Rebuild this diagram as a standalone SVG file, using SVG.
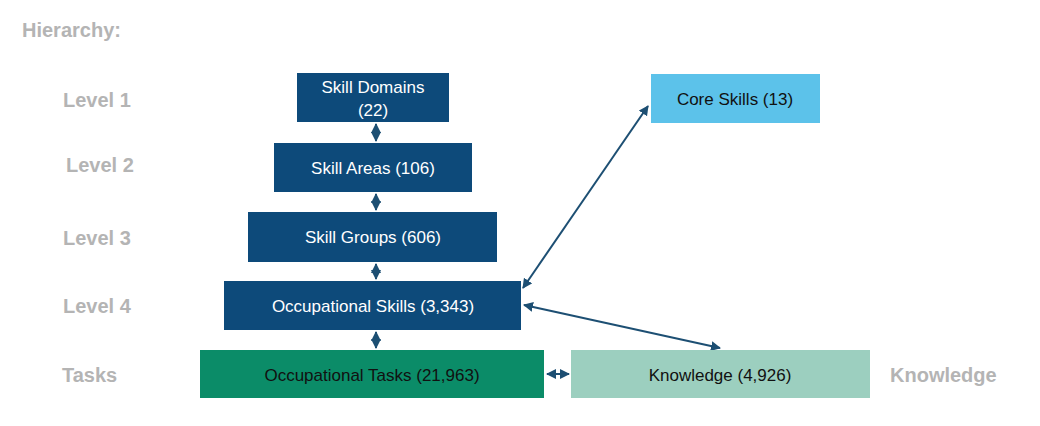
<svg xmlns="http://www.w3.org/2000/svg" width="1040" height="426" viewBox="0 0 1040 426">
<style>
.lbl{font-family:"Liberation Sans",Arial,sans-serif;font-weight:bold;font-size:20px;fill:#b4b4b4}
.bt{font-family:"Liberation Sans",Arial,sans-serif;font-size:17px;fill:#fff;text-anchor:middle}
.dk{fill:#0d4a7a}
.c{stroke:#1d4f73;stroke-width:2;fill:none;marker-start:url(#a);marker-end:url(#a)}
</style>
<defs><marker id="a" viewBox="0 0 10 10" refX="9" refY="5" markerWidth="5" markerHeight="5" orient="auto-start-reverse"><path d="M0,0L10,5L0,10z" fill="#1d4f73"/></marker></defs>
<rect width="1040" height="426" fill="#fff"/>
<text class="lbl" x="22" y="37">Hierarchy:</text>
<text class="lbl" x="63" y="107">Level 1</text>
<text class="lbl" x="66" y="172">Level 2</text>
<text class="lbl" x="63" y="245">Level 3</text>
<text class="lbl" x="63" y="313">Level 4</text>
<text class="lbl" x="62" y="382">Tasks</text>
<text class="lbl" x="890" y="382">Knowledge</text>
<g id="connectors">
<line class="c" x1="376" y1="124" x2="376" y2="141"/>
<line class="c" x1="376" y1="194" x2="376" y2="210"/>
<line class="c" x1="376" y1="264" x2="376" y2="279"/>
<line class="c" x1="376" y1="332" x2="376" y2="348"/>
<line class="c" x1="547" y1="374" x2="569" y2="374"/>
<line class="c" x1="523" y1="288" x2="648" y2="106"/>
<line class="c" x1="524" y1="305" x2="720" y2="348"/>
</g>
<g id="n1"><rect class="dk" x="297" y="73" width="152" height="49"/><text class="bt" x="373" y="93">Skill Domains</text><text class="bt" x="373" y="116">(22)</text></g>
<g id="n2"><rect class="dk" x="274" y="143" width="198" height="49"/><text class="bt" x="373" y="174">Skill Areas (106)</text></g>
<g id="n3"><rect class="dk" x="248" y="212" width="249" height="50"/><text class="bt" x="373" y="243">Skill Groups (606)</text></g>
<g id="n4"><rect class="dk" x="224" y="281" width="297" height="49"/><text class="bt" x="373" y="312">Occupational Skills (3,343)</text></g>
<g id="n5"><rect fill="#0b8c68" x="200" y="350" width="344" height="48"/><text class="bt" x="372" y="381" fill="#111" style="fill:#111">Occupational Tasks (21,963)</text></g>
<g id="n6"><rect fill="#9ccfbf" x="571" y="350" width="299" height="48"/><text class="bt" x="720" y="381" style="fill:#111">Knowledge (4,926)</text></g>
<g id="n7"><rect fill="#5cc2ea" x="651" y="74" width="169" height="49"/><text class="bt" x="735" y="105" style="fill:#111">Core Skills (13)</text></g>
</svg>
